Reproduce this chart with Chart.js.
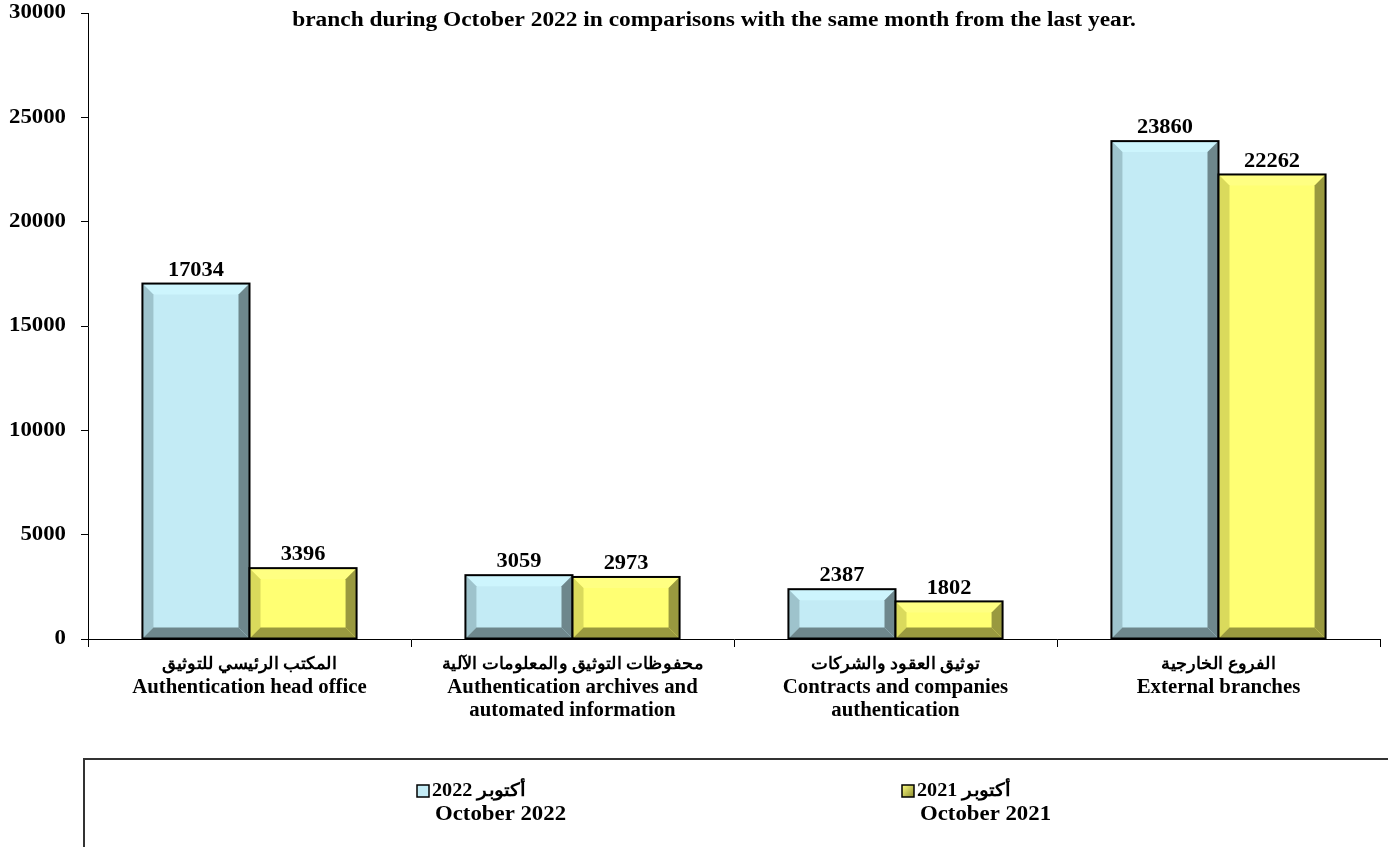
<!DOCTYPE html>
<html>
<head>
<meta charset="utf-8">
<script src="https://cdn.jsdelivr.net/npm/chart.js@4/dist/chart.umd.min.js"></script>
<style>
  html, body { margin: 0; padding: 0; background: #fff; }
  canvas { display: block; }
</style>
</head>
<body>
<canvas id="chart" width="1388" height="847"></canvas>
<script>
// data
const categoryAr = ["المكتب الرئيسي للتوثيق", "محفوظات التوثيق والمعلومات الآلية", "توثيق العقود والشركات", "الفروع الخارجية"];
const categoryEn = [
  ["Authentication head office"],
  ["Authentication archives and", "automated information"],
  ["Contracts and companies", "authentication"],
  ["External branches"]
];
const oct2022 = [17034, 3059, 2387, 23860];
const oct2021 = [3396, 2973, 1802, 22262];
const seriesAr = ["أكتوبر 2022", "أكتوبر 2021"];
const seriesEn = ["October 2022", "October 2021"];
const yMax = 30000;
const yStep = 5000;
const titleText = "branch during October 2022 in comparisons with the same month from the last year.";

const FONT = "'Liberation Serif', 'Times New Roman', serif";

const bevels = [
  { face: "#c3ebf5", top: "#cdf5fd", left: "#9ec3cc", right: "#6e878c", bottom: "#6e878c" },
  { face: "#ffff73", top: "#ffff82", left: "#dada5c", right: "#99993f", bottom: "#99993f" }
];

// bold text, slightly widened like the original
function txt(ctx, s, x, y, size, sx, align, dir) {
  ctx.save();
  ctx.font = "bold " + size + "px " + FONT;
  ctx.direction = dir || "ltr";
  ctx.textAlign = align;
  ctx.textBaseline = "middle";
  ctx.fillStyle = "#000";
  ctx.translate(x, y);
  ctx.scale(sx, 1);
  ctx.fillText(s, 0, 0);
  ctx.restore();
}

// bevelled bars, value labels, axis labels, title and legend
const decorations = {
  id: "decorations",
  afterDatasetsDraw(chart) {
    const ctx = chart.ctx;
    chart.getSortedVisibleDatasetMetas().forEach(meta => {
      const bv = bevels[meta.index];
      meta.data.forEach((bar, i) => {
        const p = bar.getProps(["x", "y", "base", "width"], true);
        const l = p.x - p.width / 2, r = p.x + p.width / 2, t = p.y, b = p.base;
        const d = Math.min(11, (b - t) / 2, p.width / 2);
        ctx.save();
        const poly = (pts, c) => {
          ctx.beginPath();
          ctx.moveTo(pts[0][0], pts[0][1]);
          pts.slice(1).forEach(q => ctx.lineTo(q[0], q[1]));
          ctx.closePath();
          ctx.fillStyle = c;
          ctx.fill();
        };
        poly([[l, t], [r, t], [r - d, t + d], [l + d, t + d]], bv.top);
        poly([[l, t], [l + d, t + d], [l + d, b - d], [l, b]], bv.left);
        poly([[r, t], [r, b], [r - d, b - d], [r - d, t + d]], bv.right);
        poly([[l, b], [l + d, b - d], [r - d, b - d], [r, b]], bv.bottom);
        ctx.strokeStyle = "#000";
        ctx.lineWidth = 2;
        ctx.strokeRect(l, t, r - l, b - t);
        ctx.restore();
        txt(ctx, String(chart.data.datasets[meta.index].data[i]), p.x, t - 13, 20, 1.12, "center");
      });
    });
  },
  afterDraw(chart) {
    const ctx = chart.ctx;
    txt(ctx, titleText, 714, 21, 20, 1.17, "center");

    // y tick labels
    const ys = chart.scales.y;
    ys.ticks.forEach(tk => {
      txt(ctx, String(tk.value), 66, ys.getPixelForValue(tk.value), 20, 1.14, "right");
    });

    // category labels
    const xs = chart.scales.x;
    chart.data.labels.forEach((lines, i) => {
      const cx = xs.getPixelForValue(i);
      txt(ctx, categoryAr[i], cx, 665, 17, 1.05, "center", "rtl");
      lines.forEach((s, j) => txt(ctx, s, cx, 688 + j * 23, 20, 1.04, "center"));
    });

    // legend
    ctx.save();
    ctx.strokeStyle = "#333";
    ctx.lineWidth = 2;
    ctx.strokeRect(84, 759, 1400, 200);
    const itemX = [417, 902];
    chart.data.datasets.forEach((ds, i) => {
      const x = itemX[i];
      if (i === 0) {
        ctx.fillStyle = bevels[0].face;
      } else {
        const g = ctx.createLinearGradient(x, 785, x + 12, 797);
        g.addColorStop(0, "#ffff80");
        g.addColorStop(1, "#8c8c30");
        ctx.fillStyle = g;
      }
      ctx.fillRect(x, 785, 12, 12);
      ctx.strokeStyle = "#000";
      ctx.lineWidth = 1.5;
      ctx.strokeRect(x, 785, 12, 12);
      txt(ctx, seriesAr[i], x + 15, 791, 18, 1.12, "left", "rtl");
      txt(ctx, seriesEn[i], x + 18, 815, 20, 1.14, "left");
    });
    ctx.restore();
  }
};

new Chart(document.getElementById("chart"), {
  type: "bar",
  data: {
    labels: categoryEn,
    datasets: [
      { label: seriesEn[0], data: oct2022, backgroundColor: bevels[0].face, borderWidth: 0 },
      { label: seriesEn[1], data: oct2021, backgroundColor: bevels[1].face, borderWidth: 0 }
    ]
  },
  options: {
    responsive: false,
    animation: false,
    devicePixelRatio: 1,
    categoryPercentage: 0.663,
    barPercentage: 1,
    layout: { padding: { top: 13, right: 8, left: 0, bottom: 0 } },
    plugins: { legend: { display: false }, tooltip: { enabled: false } },
    scales: {
      x: {
        grid: { drawOnChartArea: false, tickLength: 8, color: "#000", offset: true },
        border: { color: "#000", width: 1 },
        ticks: { display: false, autoSkip: false },
        afterFit: s => { s.height = 208; }
      },
      y: {
        min: 0,
        max: yMax,
        ticks: { display: false, stepSize: yStep },
        grid: { drawOnChartArea: false, tickLength: 7, color: "#000" },
        border: { color: "#000", width: 1 },
        afterFit: s => { s.width = 88; }
      }
    }
  },
  plugins: [decorations]
});
</script>
</body>
</html>
